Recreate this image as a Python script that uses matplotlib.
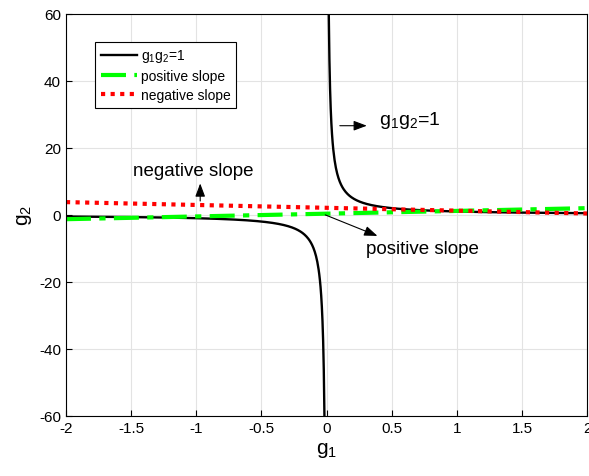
import numpy as np
import matplotlib
matplotlib.use("Agg")
import matplotlib.pyplot as plt

plt.rcParams['font.family'] = ['Liberation Sans', 'DejaVu Sans']
plt.rcParams['mathtext.fontset'] = 'custom'
plt.rcParams['mathtext.rm'] = 'Liberation Sans'
plt.rcParams['mathtext.it'] = 'Liberation Sans'
plt.rcParams['axes.unicode_minus'] = False

# hyperbola g1*g2 = 1
g1_neg = np.linspace(-2, -1 / 60, 400)
g1_pos = np.linspace(1 / 60, 2, 400)

# straight lines, endpoints
pos_x = [-2, 2]
pos_y = [-1.3, 2.0]
neg_x = [-2, 2]
neg_y = [3.8, 0.4]

x_ticks = [-2, -1.5, -1, -0.5, 0, 0.5, 1, 1.5, 2]
y_ticks = [-60, -40, -20, 0, 20, 40, 60]

fig = plt.figure(figsize=(5.89, 4.77), dpi=100)
ax = fig.add_axes([0.112, 0.126, 0.885, 0.843])

ax.plot(g1_neg, 1 / g1_neg, color="black", lw=1.7, label="$\\mathregular{g_1g_2}$=1")
ax.plot(g1_pos, 1 / g1_pos, color="black", lw=1.7)
ax.plot(pos_x, pos_y, color="#00ff00", lw=3, ls=(0, (6, 2, 1.5, 2)), label="positive slope")
ax.plot(neg_x, neg_y, color="red", lw=3, ls=(0, (1, 1.3)), label="negative slope")

ax.set_xlim(-2, 2)
ax.set_ylim(-60, 60)
ax.set_xticks(x_ticks)
ax.set_yticks(y_ticks)
ax.set_xticklabels([f"{t:g}" for t in x_ticks])
ax.grid(True, color="#e3e3e3", lw=0.8)
ax.set_axisbelow(True)
ax.tick_params(direction="in", labelsize=11, length=4)
ax.set_xlabel("$\\mathregular{g_1}$", fontsize=15)
ax.set_ylabel("$\\mathregular{g_2}$", fontsize=15)

arrow = dict(arrowstyle="-|>,head_length=0.8,head_width=0.3", color="black", lw=0.8)
ax.annotate("", xy=(0.33, 26.6), xytext=(0.08, 26.6), arrowprops=arrow)
ax.text(0.4, 28.5, "$\\mathregular{g_1g_2}$=1", fontsize=14, va="center", ha="left")
ax.annotate("", xy=(-0.97, 10.2), xytext=(-0.97, 3.3), arrowprops=arrow)
ax.text(-1.02, 13.2, "negative slope", fontsize=13.5, va="center", ha="center")
ax.annotate("", xy=(0.41, -6.6), xytext=(-0.03, 0.3), arrowprops=arrow)
ax.text(0.3, -10.0, "positive slope", fontsize=13.5, va="center", ha="left")

leg = ax.legend(loc="upper left", bbox_to_anchor=(0.056, 0.93), fontsize=10,
                fancybox=False, edgecolor="black", framealpha=1,
                handlelength=2.6, handletextpad=0.3, borderpad=0.4,
                labelspacing=0.35, borderaxespad=0)
leg.get_frame().set_linewidth(0.8)

fig.savefig("out.png", dpi=100)
